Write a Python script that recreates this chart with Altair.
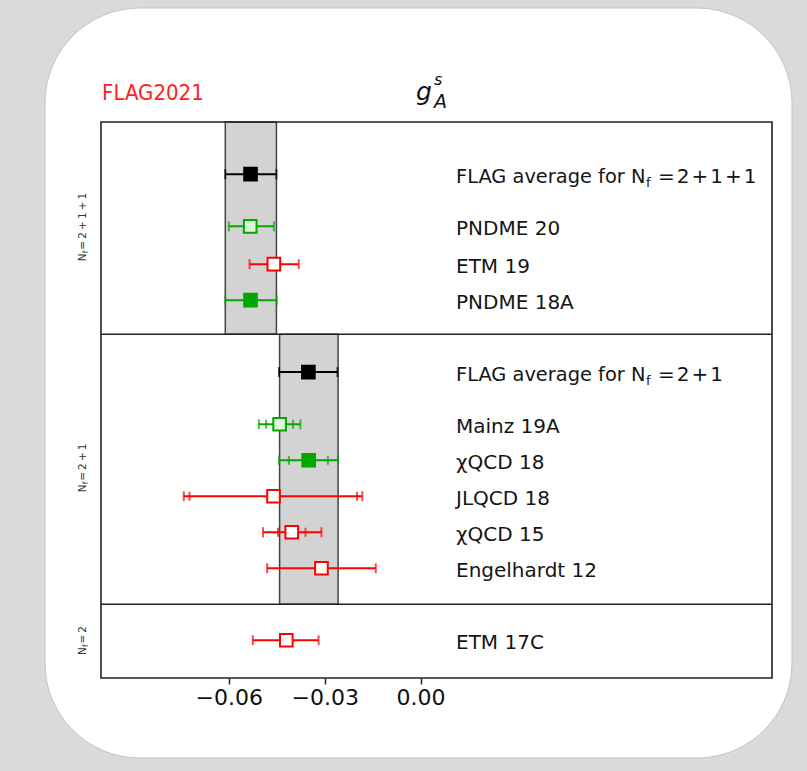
import altair as alt
import pandas as pd

# ---------------- data ----------------
names = ["PNDME 20", "ETM 19", "PNDME 18A",
         "Mainz 19A", "χQCD 18", "JLQCD 18", "χQCD 15", "Engelhardt 12",
         "ETM 17C"]
rows = [2.9, 3.95, 4.95, 8.4, 9.4, 10.4, 11.4, 12.4, 14.4]
central = [-0.0533, -0.0459, -0.0532, -0.0441, -0.0350, -0.0460, -0.0403, -0.0310, -0.0420]
lower = [-0.0600, -0.0535, -0.0611, -0.0506, -0.0443, -0.0741, -0.0493, -0.0480, -0.0525]
upper = [-0.0459, -0.0381, -0.0450, -0.0376, -0.0258, -0.0182, -0.0310, -0.0140, -0.0319]
stat_lower = [None, None, None, -0.0483, -0.0412, -0.0723, -0.0446, None, None]
stat_upper = [None, None, None, -0.0399, -0.0290, -0.0199, -0.0360, None, None]
edge = ["green", "red", "green", "green", "green", "red", "red", "red", "red"]
face = ["light", "white", "green", "light", "green", "white", "white", "white", "white"]

# FLAG averages
avg_rows = [1.45, 6.95]
avg_central = [-0.0532, -0.0351]
avg_lower = [-0.0611, -0.0443]
avg_upper = [-0.0451, -0.0260]
avg_prefix = ["FLAG average for N", "FLAG average for N"]
avg_suffix = ["=\u200a2\u200a+\u200a1\u200a+\u200a1", "=\u200a2\u200a+\u200a1"]

band_lo = [-0.0611, -0.0441]
band_hi = [-0.0451, -0.0258]
band_top = [0.0, 5.9]
band_bottom = [5.9, 13.4]

dividers = [5.9, 13.4]

panel_mid = [2.95, 9.65, 14.425]
panel_text = ["=\u20092\u2009+\u20091\u2009+\u20091", "=\u20092\u2009+\u20091", "=\u20092"]
panel_dx = [-33, -23, -14]

x_ticks = [-0.06, -0.03, 0.0]
x_domain = [-0.10, 0.11]
y_domain = [0.0, 15.45]

palette = {"black": "#000000", "green": "#00a800", "red": "#ff0000",
           "light": "#dcf3dc", "white": "#ffffff"}

# ---------------- tables ----------------
pts = pd.DataFrame({
    "name": names, "row": rows, "val": central, "lo": lower, "hi": upper,
    "edge": [palette[c] for c in edge], "face": [palette[c] for c in face],
})
avg = pd.DataFrame({
    "name": avg_prefix, "suffix": avg_suffix, "row": avg_rows, "val": avg_central,
    "lo": avg_lower, "hi": avg_upper, "edge": palette["black"], "face": palette["black"],
})
allpts = pd.concat([pts, avg[["name", "row", "val", "lo", "hi", "edge", "face"]]], ignore_index=True)

cap_rows = []
for r in allpts.itertuples():
    cap_rows.append({"x": r.lo, "row": r.row, "edge": r.edge, "kind": "outer"})
    cap_rows.append({"x": r.hi, "row": r.row, "edge": r.edge, "kind": "outer"})
for i in range(len(rows)):
    if stat_lower[i] is not None:
        cap_rows.append({"x": stat_lower[i], "row": rows[i], "edge": palette[edge[i]], "kind": "inner"})
        cap_rows.append({"x": stat_upper[i], "row": rows[i], "edge": palette[edge[i]], "kind": "inner"})
caps = pd.DataFrame(cap_rows)

bands = pd.DataFrame({"lo": band_lo, "hi": band_hi, "top": band_top, "bottom": band_bottom})
divs = pd.DataFrame({"row": dividers})

W, H = 671, 556
xs = alt.Scale(domain=x_domain, nice=False, zero=False)
ys = alt.Scale(domain=y_domain, reverse=True, nice=False, zero=False)
FONT = "DejaVu Sans"

one = pd.DataFrame({"a": [0]})

# card decoration
card = alt.Chart(one).mark_rect(cornerRadius=95, color="white", stroke="#c4c4c4", strokeWidth=1).encode(
    x=alt.value(-56), x2=alt.value(691), y=alt.value(-114), y2=alt.value(636))

band = alt.Chart(bands).mark_rect(color="#d3d3d3", stroke="#444444", strokeWidth=1.5).encode(
    x=alt.X("lo:Q", scale=xs, axis=alt.Axis(values=x_ticks, format=".2f", title=None, grid=False,
                                            domain=False, tickSize=6, tickWidth=1.5, tickColor="#222",
                                            labelFontSize=22, labelFont=FONT, labelColor="#111",
                                            labelPadding=3, zindex=1)),
    x2="hi:Q",
    y=alt.Y("top:Q", scale=ys, axis=None),
    y2="bottom:Q",
)

div_rules = alt.Chart(divs).mark_rule(color="#222", strokeWidth=1.6).encode(
    y=alt.Y("row:Q", scale=ys), x=alt.value(0), x2=alt.value(W))

err = alt.Chart(allpts).mark_rule(strokeWidth=2).encode(
    x=alt.X("lo:Q", scale=xs), x2="hi:Q", y=alt.Y("row:Q", scale=ys),
    color=alt.Color("edge:N", scale=None))

cap_outer = alt.Chart(caps).transform_filter(alt.datum.kind == "outer").mark_tick(
    orient="vertical", size=10, thickness=2).encode(
    x=alt.X("x:Q", scale=xs), y=alt.Y("row:Q", scale=ys), color=alt.Color("edge:N", scale=None))

cap_inner = alt.Chart(caps).transform_filter(alt.datum.kind == "inner").mark_tick(
    orient="vertical", size=9, thickness=2).encode(
    x=alt.X("x:Q", scale=xs), y=alt.Y("row:Q", scale=ys), color=alt.Color("edge:N", scale=None))

squares = alt.Chart(allpts).mark_point(shape="square", size=160, strokeWidth=2, filled=False, opacity=1).encode(
    x=alt.X("val:Q", scale=xs), y=alt.Y("row:Q", scale=ys),
    stroke=alt.Stroke("edge:N", scale=None), fill=alt.Fill("face:N", scale=None))

labels = alt.Chart(pts).mark_text(align="left", baseline="middle", dy=3, fontSize=20, font=FONT,
                                  color="#151515").encode(
    x=alt.value(355), y=alt.Y("row:Q", scale=ys), text="name:N")

avg_labels = alt.Chart(avg).mark_text(align="left", baseline="middle", dy=3, fontSize=19.4, font=FONT,
                                      color="#151515").encode(
    x=alt.value(355), y=alt.Y("row:Q", scale=ys), text="name:N")

sub_f = alt.Chart(avg).mark_text(align="left", baseline="middle", dy=9, fontSize=13, font=FONT,
                                 color="#151515").encode(
    x=alt.value(545), y=alt.Y("row:Q", scale=ys), text=alt.value("f"))

suffix = alt.Chart(avg).mark_text(align="left", baseline="middle", dy=3, fontSize=20, font=FONT,
                                  color="#151515").encode(
    x=alt.value(557), y=alt.Y("row:Q", scale=ys), text="suffix:N")

# rotated panel labels (N_f = ...), one small group per panel
panel_layers = []
for mid, txt, dx0 in zip(panel_mid, panel_text, panel_dx):
    pdf = pd.DataFrame({"row": [mid], "txt": [txt]})
    base = alt.Chart(pdf)
    panel_layers.append(base.mark_text(align="left", baseline="middle", angle=270, fontSize=10.5,
                                       font=FONT, color="#333", dx=dx0).encode(
        x=alt.value(-18), y=alt.Y("row:Q", scale=ys), text=alt.value("N")))
    panel_layers.append(base.mark_text(align="left", baseline="middle", angle=270, fontSize=7.5,
                                       font=FONT, color="#333", dx=dx0 + 8, dy=3).encode(
        x=alt.value(-18), y=alt.Y("row:Q", scale=ys), text=alt.value("f")))
    panel_layers.append(base.mark_text(align="left", baseline="middle", angle=270, fontSize=10.5,
                                       font=FONT, color="#333", dx=dx0 + 11.5).encode(
        x=alt.value(-18), y=alt.Y("row:Q", scale=ys), text="txt:N"))

# header texts
flag = alt.Chart(one).mark_text(align="left", baseline="alphabetic", fontSize=22, color="#ff2020",
                                font="Liberation Sans Narrow, DejaVu Sans Condensed, Liberation Sans").encode(
    x=alt.value(1), y=alt.value(-22), text=alt.value("FLAG2021"))
g_txt = alt.Chart(one).mark_text(align="left", baseline="alphabetic", fontSize=25, fontStyle="italic",
                                 font=FONT, color="#111").encode(
    x=alt.value(315), y=alt.value(-22), text=alt.value("g"))
s_txt = alt.Chart(one).mark_text(align="left", baseline="alphabetic", fontSize=16, fontStyle="italic",
                                 font=FONT, color="#111").encode(
    x=alt.value(333), y=alt.value(-37), text=alt.value("s"))
a_txt = alt.Chart(one).mark_text(align="left", baseline="alphabetic", fontSize=19, fontStyle="italic",
                                 font=FONT, color="#111").encode(
    x=alt.value(333), y=alt.value(-14), text=alt.value("A"))

frame = alt.Chart(one).mark_rect(fillOpacity=0, stroke="#222", strokeWidth=1.6).encode(
    x=alt.value(0), x2=alt.value(W), y=alt.value(0), y2=alt.value(H))

chart = alt.layer(
    card, band, div_rules, err, cap_outer, cap_inner, squares, labels, avg_labels, sub_f, suffix,
    *panel_layers, flag, g_txt, s_txt, a_txt, frame
).properties(
    width=W, height=H,
    padding={"left": 101, "top": 122, "right": 35, "bottom": 93},
    autosize=alt.AutoSizeParams(type="none"),
    background="#dadada",
).configure_view(stroke=None)

chart.save("out.html", embed_options={"renderer": "svg", "actions": False})
